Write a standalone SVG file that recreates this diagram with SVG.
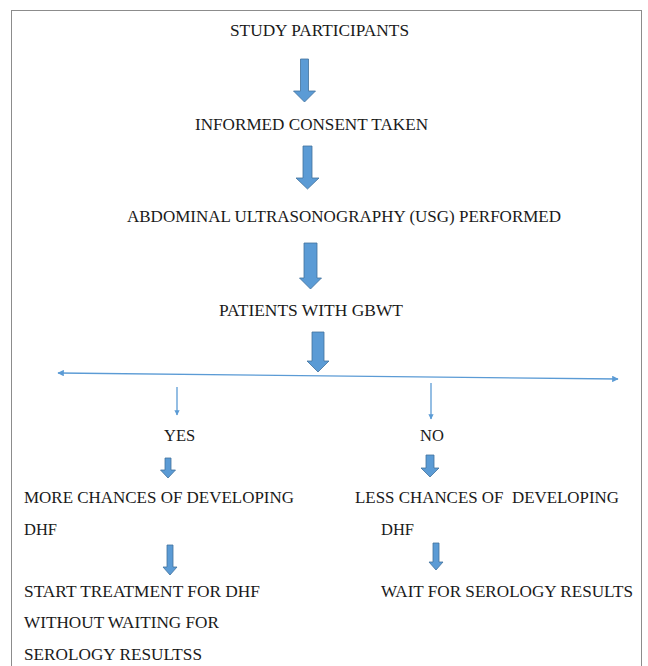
<svg xmlns="http://www.w3.org/2000/svg" width="648" height="666" viewBox="0 0 648 666">
<defs>
<style>
.t{font-size:16.5px;fill:#1a1a1a}
.blk{fill:#5b9bd5;stroke:#41719c;stroke-width:0.8}
.ln{stroke:#5b9bd5;stroke-width:1.3;fill:none}
</style>
<marker id="ah" viewBox="0 0 10 10" refX="9" refY="5" markerWidth="5" markerHeight="5" orient="auto-start-reverse">
<path d="M0,0 L10,5 L0,10 z" fill="#5b9bd5"/>
</marker>
<marker id="sh" viewBox="0 0 10 10" refX="9" refY="5" markerWidth="4" markerHeight="4" orient="auto">
<path d="M0,0 L10,5 L0,10 z" fill="#5b9bd5"/>
</marker>
</defs>
<rect x="11.5" y="10.5" width="630" height="670" fill="#fff" stroke="#8c8c8c" stroke-width="1"/>
<g class="t" font-family="'Liberation Serif', 'Times New Roman', serif">
<g id="n1"><text x="230" y="36" textLength="179" lengthAdjust="spacingAndGlyphs">STUDY PARTICIPANTS</text></g>
<g id="n2"><text x="195" y="130" textLength="233" lengthAdjust="spacingAndGlyphs">INFORMED CONSENT TAKEN</text></g>
<g id="n3"><text x="127" y="222" textLength="434" lengthAdjust="spacingAndGlyphs">ABDOMINAL ULTRASONOGRAPHY (USG) PERFORMED</text></g>
<g id="n4"><text x="219" y="316" textLength="184" lengthAdjust="spacingAndGlyphs">PATIENTS WITH GBWT</text></g>
<g id="n5"><text x="164" y="441">YES</text></g>
<g id="n6"><text x="420" y="441">NO</text></g>
<g id="n7"><text x="24" y="503" textLength="270" lengthAdjust="spacingAndGlyphs">MORE CHANCES OF DEVELOPING</text><text x="24" y="535">DHF</text></g>
<g id="n8"><text x="355" y="503" textLength="264" lengthAdjust="spacingAndGlyphs" xml:space="preserve">LESS CHANCES OF  DEVELOPING</text><text x="381" y="535">DHF</text></g>
<g id="n9"><text x="24" y="597" textLength="236" lengthAdjust="spacingAndGlyphs">START TREATMENT FOR DHF</text><text x="24" y="628" textLength="195" lengthAdjust="spacingAndGlyphs">WITHOUT WAITING FOR</text><text x="24" y="660" textLength="178" lengthAdjust="spacingAndGlyphs">SEROLOGY RESULTSS</text></g>
<g id="n10"><text x="381" y="597" textLength="252" lengthAdjust="spacingAndGlyphs">WAIT FOR SEROLOGY RESULTS</text></g>
</g>
<g id="connectors">
<path class="blk" d="M300.5,59 h8 v32 h7 l-11,11 l-11,-11 h7 z"/>
<path class="blk" d="M303,146 h9 v32 h7 l-11.5,11 l-11.5,-11 h7 z"/>
<path class="blk" d="M304,243 h13 v35 h4.5 l-11,11 l-11,-11 h4.5 z"/>
<path class="blk" d="M312,332 h12 v29 h5 l-11,11 l-11,-11 h5 z"/>
<path class="ln" d="M58,373 L618,379" marker-start="url(#ah)" marker-end="url(#ah)"/>
<path class="ln" d="M177,387 L177,415" marker-end="url(#sh)"/>
<path class="ln" d="M431,383 L431,419" marker-end="url(#sh)"/>
<path class="blk" d="M165,458 h6 v12 h4.5 l-7.5,8 l-7.5,-8 h4.5 z"/>
<path class="blk" d="M426,455 h8 v13 h5 l-9,9 l-9,-9 h5 z"/>
<path class="blk" d="M167,545 h6 v22 h4 l-7,8 l-7,-8 h4 z"/>
<path class="blk" d="M433,543 h6 v19 h4 l-7,8 l-7,-8 h4 z"/>
</g>
</svg>
